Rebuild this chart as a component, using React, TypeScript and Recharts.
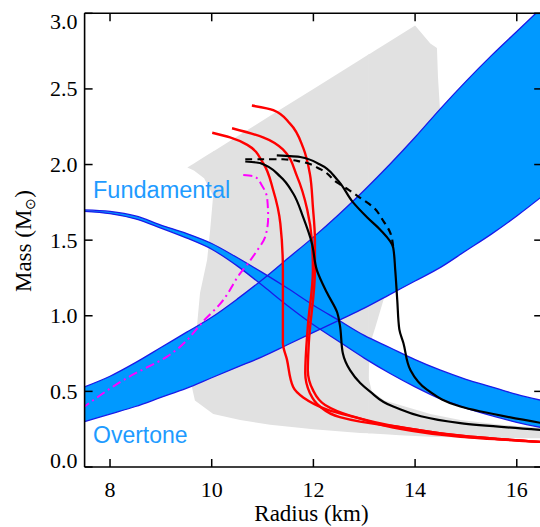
import { Area, ComposedChart, Line, ReferenceLine, XAxis, YAxis } from "recharts";

const serif = '"Liberation Serif", "Times New Roman", serif';
const sans = '"Liberation Sans", Arial, sans-serif';

const PLOT_TOP = 13.3;
const PLOT_BOTTOM = 467;
const PLOT_LEFT = 84.6;
const PLOT_RIGHT = 542.2;

const radiusTicks = [8, 10, 12, 14, 16];
const massTicks = [0, 0.5, 1, 1.5, 2, 2.5, 3];
const R_MIN = 7.5;
const R_MAX = 16.5;
const M_MAX = 3;

// f-mode / overtone bands, sampled on a common radius grid
const bandRadius = [7.5, 8, 8.5, 9, 9.5, 10, 10.5, 11, 11.5, 12, 12.5, 13, 13.5, 14, 14.5, 15, 15.5, 16, 16.5];
const fundamentalUpper = [1.7, 1.69, 1.66, 1.6, 1.545, 1.478, 1.385, 1.285, 1.18, 1.07, 0.97, 0.87, 0.79, 0.71, 0.64, 0.58, 0.53, 0.48, 0.44];
const fundamentalLower = [1.69, 1.675, 1.64, 1.58, 1.515, 1.44, 1.33, 1.2, 1.065, 0.94, 0.83, 0.72, 0.62, 0.53, 0.45, 0.39, 0.34, 0.295, 0.26];
const overtoneUpper = [0.53, 0.6, 0.69, 0.79, 0.89, 0.99, 1.11, 1.24, 1.38, 1.52, 1.67, 1.83, 2.0, 2.18, 2.37, 2.55, 2.72, 2.88, 3.04];
const overtoneLower = [0.3, 0.35, 0.4, 0.46, 0.52, 0.59, 0.66, 0.73, 0.81, 0.89, 0.97, 1.05, 1.14, 1.23, 1.32, 1.43, 1.54, 1.66, 1.79];

// grey allowed region, split into pieces that are single-valued in radius
const greyBodyR = [9.61, 9.63, 9.67, 9.71, 9.77, 9.91, 9.97, 10.03, 10.03, 10.56, 11.15, 12.0, 12.92, 13.09];
const greyBodyLow = [0.53, 0.5, 0.44, 0.43, 0.415, 0.38, 0.365, 0.35, 0.35, 0.31, 0.28, 0.25, 0.225, 0.223];
const greyBodyHigh = [0.53, 0.7, 0.82, 0.93, 1.15, 1.37, 1.57, 1.8, 2.087, 2.198, 2.322, 2.5, 2.693, 2.729];
const greyNotchR = [9.52, 9.65, 9.85, 10.05];
const greyNotchLow = [1.98, 1.96, 1.91, 1.78];
const greyNotchHigh = [1.98, 2.007, 2.049, 2.091];
const greyStripR = [13.08, 13.15, 13.4, 13.7, 14.3, 14.89, 15.7, 16.5];
const greyStripLow = [0.222, 0.221, 0.217, 0.21, 0.2, 0.195, 0.19, 0.19];
const greyStripHigh = [0.595, 0.5, 0.44, 0.41, 0.35, 0.31, 0.28, 0.26];
const greyUpperR = [13.08, 13.12, 13.22, 13.41, 14.0, 14.1, 14.3, 14.43, 14.45, 14.49];
const greyUpperLow = [0.58, 0.82, 0.925, 1.14, 1.35, 1.4, 1.6, 1.8, 1.85, 2.0];
const greyUpperHigh = [2.727, 2.735, 2.756, 2.796, 2.92, 2.88, 2.8, 2.77, 2.58, 2.36];

// red EOS curves
const red1R = [10.01, 10.36, 10.7, 11.01, 11.21, 11.35, 11.4, 11.4, 11.48, 11.6, 11.8, 12.27, 12.92, 13.57, 14.89, 16.5];
const red1M = [2.21, 2.18, 2.13, 2.01, 1.83, 1.61, 1.3, 0.82, 0.71, 0.53, 0.46, 0.38, 0.32, 0.26, 0.2, 0.165];
const red2R = [10.4, 11.01, 11.4, 11.68, 11.88, 11.97, 11.99, 11.89, 11.84, 11.93, 12.13, 12.52, 12.92, 13.77, 15.09, 16.5];
const red2M = [2.24, 2.18, 2.1, 1.92, 1.7, 1.5, 1.3, 0.93, 0.62, 0.49, 0.4, 0.33, 0.3, 0.26, 0.2, 0.165];
const red3R = [10.79, 11.21, 11.54, 11.8, 11.93, 11.99, 12.03, 12.03, 11.91, 11.89, 11.99, 12.23, 12.72, 13.77, 15.09, 16.5];
const red3M = [2.39, 2.36, 2.27, 2.11, 1.94, 1.72, 1.5, 1.3, 0.82, 0.64, 0.51, 0.41, 0.34, 0.26, 0.2, 0.165];

// black EOS curves
const blackAR = [10.66, 10.95, 11.35, 11.6, 11.8, 11.97, 12.07, 12.27, 12.47, 12.52, 12.58, 12.72, 12.92, 13.11, 13.57, 14.89, 16.5];
const blackAM = [2.02, 2.01, 1.92, 1.81, 1.65, 1.48, 1.3, 1.15, 1.02, 0.94, 0.75, 0.64, 0.555, 0.5, 0.4, 0.29, 0.245];
const blackBR = [11.28, 11.74, 12.13, 12.47, 12.78, 13.06, 13.31, 13.57, 13.61, 13.65, 13.69, 13.77, 13.91, 14.24, 14.89, 16.5];
const blackBM = [2.06, 2.05, 2.0, 1.9, 1.75, 1.65, 1.57, 1.45, 1.3, 1.1, 0.91, 0.82, 0.64, 0.51, 0.4, 0.29];
const dashedR = [10.66, 11.0, 11.4, 11.74, 12.13, 12.47, 12.66, 12.92, 13.17, 13.37, 13.51, 13.57];
const dashedM = [2.035, 2.035, 2.035, 2.02, 1.97, 1.88, 1.84, 1.78, 1.72, 1.63, 1.55, 1.45];

// magenta dash-dot curve
const magentaR = [10.62, 10.85, 10.99, 11.09, 11.11, 11.05, 10.89, 10.7, 10.56, 10.17, 9.91, 9.12, 8.34, 7.5];
const magentaM = [1.93, 1.92, 1.86, 1.78, 1.65, 1.52, 1.43, 1.34, 1.28, 1.08, 0.99, 0.73, 0.59, 0.4];

const bandData = bandRadius.map((r, i) => ({
  r,
  fund: [fundamentalLower[i], fundamentalUpper[i]],
  over: [overtoneLower[i], overtoneUpper[i]],
}));

const pts = (rs: number[], ms: number[]) => rs.map((r, i) => ({ r, m: ms[i] }));
const range = (rs: number[], lo: number[], hi: number[]) => rs.map((r, i) => ({ r, m: [lo[i], hi[i]] }));

const greyPieces = [
  range(greyBodyR, greyBodyLow, greyBodyHigh),
  range(greyNotchR, greyNotchLow, greyNotchHigh),
  range(greyStripR, greyStripLow, greyStripHigh),
  range(greyUpperR, greyUpperLow, greyUpperHigh),
];

// 8px inward tick length, expressed in data units for the top / right frame
const TICK_PX = 8;
const topTickLen = (TICK_PX * M_MAX) / (PLOT_BOTTOM - PLOT_TOP);
const rightTickLen = (TICK_PX * (R_MAX - R_MIN)) / (PLOT_RIGHT - PLOT_LEFT);

const LeftTick = ({ x, y, payload }: any) => {
  const cy = Math.min(Math.max(y, PLOT_TOP + 8.5), PLOT_BOTTOM - 6.5);
  return (
    <g>
      <line x1={x} x2={x + TICK_PX} y1={y} y2={y} stroke="#000" strokeWidth={1.5} />
      <text x={x - 7} y={cy + 7.5} textAnchor="end" fontFamily={serif} fontSize={22} fill="#000">
        {Number(payload.value).toFixed(1)}
      </text>
    </g>
  );
};

const BottomTick = ({ x, y, payload }: any) => (
  <g>
    <line x1={x} x2={x} y1={y} y2={y - TICK_PX} stroke="#000" strokeWidth={1.5} />
    <text x={x} y={y + 30} textAnchor="middle" fontFamily={serif} fontSize={22} fill="#000">
      {payload.value}
    </text>
  </g>
);

const XTitle = () => (
  <text x={311.5} y={521} textAnchor="middle" fontFamily={serif} fontSize={23} fill="#000">
    Radius (km)
  </text>
);

const YTitle = () => (
  <text x={31} y={241} transform="rotate(-90 31 241)" textAnchor="middle" fontFamily={serif} fontSize={23} fill="#000">
    Mass (M<tspan fontSize={14} dy={4}>⊙</tspan>
    <tspan dy={-4}>)</tspan>
  </text>
);

export default function App() {
  const blue = "#0099ff";
  const edge = "#1a1ae8";
  return (
    <div style={{ position: "absolute", left: 0, top: 0, width: 540, height: 527, overflow: "hidden", background: "#fff" }}>
      <ComposedChart width={560} height={527} data={bandData} margin={{ top: PLOT_TOP, right: 560 - PLOT_RIGHT, bottom: 0, left: 0 }}>
        <XAxis
          dataKey="r"
          type="number"
          domain={[R_MIN, R_MAX]}
          ticks={radiusTicks}
          allowDataOverflow
          height={60}
          tickSize={0}
          tickMargin={0}
          tick={BottomTick}
          axisLine={{ stroke: "#000", strokeWidth: 1.6 }}
          label={{ content: XTitle }}
        />
        <YAxis
          type="number"
          domain={[0, M_MAX]}
          ticks={massTicks}
          allowDataOverflow
          width={PLOT_LEFT}
          tickSize={0}
          tickMargin={0}
          tick={LeftTick}
          axisLine={{ stroke: "#000", strokeWidth: 1.6 }}
          label={{ content: YTitle }}
        />

        {greyPieces.map((piece, i) => (
          <Area key={`grey-${i}`} data={piece} dataKey="m" type="linear" fill="#e1e1e1" fillOpacity={1} stroke="none" isAnimationActive={false} />
        ))}

        <Area type="monotone" dataKey="over" fill={blue} fillOpacity={1} stroke="none" isAnimationActive={false} />
        <Area type="monotone" dataKey="fund" fill={blue} fillOpacity={1} stroke="none" isAnimationActive={false} />
        <Area type="monotone" dataKey="over" fill="none" stroke={edge} strokeWidth={1.3} isAnimationActive={false} />
        <Area type="monotone" dataKey="fund" fill="none" stroke={edge} strokeWidth={1.3} isAnimationActive={false} />

        <Line data={pts(magentaR, magentaM)} dataKey="m" type="monotoneY" stroke="#ff00ff" strokeWidth={2} strokeDasharray="9 4 2 4" dot={false} isAnimationActive={false} />
        <Line data={pts(red1R, red1M)} dataKey="m" type="monotoneY" stroke="#ff0000" strokeWidth={2.4} dot={false} isAnimationActive={false} />
        <Line data={pts(red2R, red2M)} dataKey="m" type="monotoneY" stroke="#ff0000" strokeWidth={2.4} dot={false} isAnimationActive={false} />
        <Line data={pts(red3R, red3M)} dataKey="m" type="monotoneY" stroke="#ff0000" strokeWidth={2.4} dot={false} isAnimationActive={false} />
        <Line data={pts(blackAR, blackAM)} dataKey="m" type="monotoneY" stroke="#000" strokeWidth={2.2} dot={false} isAnimationActive={false} />
        <Line data={pts(blackBR, blackBM)} dataKey="m" type="monotoneY" stroke="#000" strokeWidth={2.2} dot={false} isAnimationActive={false} />
        <Line data={pts(dashedR, dashedM)} dataKey="m" type="monotoneY" stroke="#000" strokeWidth={2.2} strokeDasharray="7 5" dot={false} isAnimationActive={false} />

        {/* top and right frame with inward ticks */}
        <ReferenceLine y={M_MAX} stroke="#000" strokeWidth={1.6} ifOverflow="visible" />
        {radiusTicks.map((t) => (
          <ReferenceLine
            key={`tt-${t}`}
            segment={[{ x: t, y: M_MAX }, { x: t, y: M_MAX - topTickLen }]}
            stroke="#000"
            strokeWidth={1.5}
            ifOverflow="visible"
          />
        ))}
        {massTicks.map((t) => (
          <ReferenceLine
            key={`rt-${t}`}
            segment={[{ x: R_MAX - rightTickLen, y: t }, { x: R_MAX, y: t }]}
            stroke="#000"
            strokeWidth={1.5}
            ifOverflow="visible"
          />
        ))}
      </ComposedChart>
      {/* top frame edge */}
      <div style={{ position: "absolute", left: PLOT_LEFT - 0.8, top: PLOT_TOP - 0.8, width: PLOT_RIGHT - PLOT_LEFT, height: 1.6, background: "#000" }} />
      <div style={{ position: "absolute", left: 93, top: 179, fontFamily: sans, fontSize: 23.5, color: "#1e9bff", lineHeight: 1 }}>Fundamental</div>
      <div style={{ position: "absolute", left: 93, top: 424, fontFamily: sans, fontSize: 23, color: "#1e9bff", lineHeight: 1 }}>Overtone</div>
    </div>
  );
}
